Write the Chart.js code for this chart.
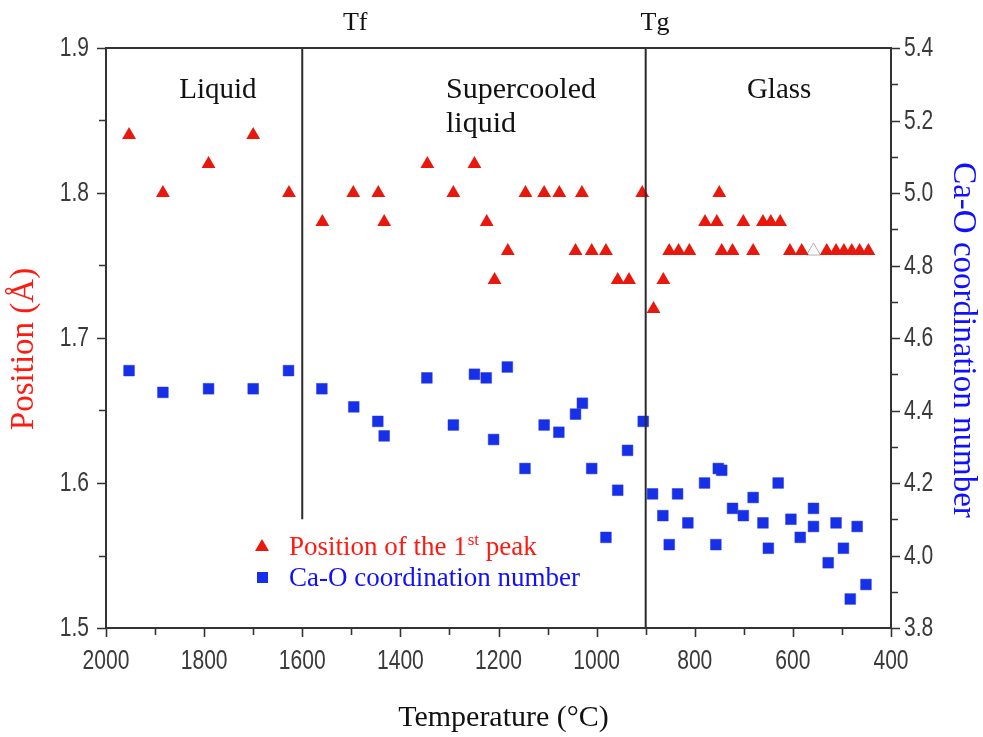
<!DOCTYPE html>
<html>
<head>
<meta charset="utf-8">
<script src="https://cdn.jsdelivr.net/npm/chart.js@4.4.1/dist/chart.umd.min.js"></script>
<style>
  html, body { margin: 0; padding: 0; background: #ffffff; }
  #wrap { width: 983px; height: 737px; position: relative; }
</style>
</head>
<body>
<div id="wrap"><canvas id="c" width="983" height="737"></canvas></div>
<script>
// ---- Data ----
// Position of the 1st peak (Å), left axis
const peakTemps = [1953, 1884, 1791, 1700, 1627, 1559, 1496, 1445, 1433, 1345, 1292, 1249, 1224, 1208, 1181, 1145, 1107, 1076, 1043, 1030, 1010, 981, 957, 934, 907, 884, 864, 852, 833, 811, 779, 755, 750, 745, 723, 701, 681, 661, 645, 626, 606, 582, 531, 512, 496, 480, 464, 446];
const peakValues = [1.84, 1.80, 1.82, 1.84, 1.80, 1.78, 1.80, 1.80, 1.78, 1.82, 1.80, 1.82, 1.78, 1.74, 1.76, 1.80, 1.80, 1.80, 1.76, 1.80, 1.76, 1.76, 1.74, 1.74, 1.80, 1.72, 1.74, 1.76, 1.76, 1.76, 1.78, 1.78, 1.80, 1.76, 1.76, 1.78, 1.76, 1.78, 1.78, 1.78, 1.76, 1.76, 1.76, 1.76, 1.76, 1.76, 1.76, 1.76];
// faint grey outlined triangle visible in the reference
const ghostTemps = [558];
const ghostValues = [1.76];

// Ca-O coordination number, right axis
const cnTemps = [1953, 1884, 1791, 1700, 1628, 1560, 1495, 1446, 1433, 1346, 1292, 1249, 1225, 1210, 1182, 1146, 1107, 1077, 1043, 1029, 1010, 981, 957, 937, 905, 886, 865, 852, 835, 814, 780, 757, 752, 745, 723, 701, 681, 661, 650, 630, 604, 585, 558, 558, 528, 512, 497, 483, 469, 451];
const cnValues = [4.51, 4.45, 4.46, 4.46, 4.51, 4.46, 4.41, 4.37, 4.33, 4.49, 4.36, 4.50, 4.49, 4.32, 4.52, 4.24, 4.36, 4.34, 4.39, 4.42, 4.24, 4.05, 4.18, 4.29, 4.37, 4.17, 4.11, 4.03, 4.17, 4.09, 4.20, 4.03, 4.24, 4.235, 4.13, 4.11, 4.16, 4.09, 4.02, 4.20, 4.10, 4.05, 4.13, 4.08, 3.98, 4.09, 4.02, 3.88, 4.08, 3.92];

// Phase boundaries: temperature and lower end (left-axis value) of the vertical line
const boundaryNames = ['Tf', 'Tg'];
const boundaryTemps = [1600, 900];
const boundaryBottoms = [1.575, 1.5];
const boundaryLabelTemps = [1492, 881];

// Axis ranges and tick labels
const xMin = 400, xMax = 2000;
const xLabelStep = 200, xMinorStep = 100;
const yMin = 1.5, yMax = 1.9, yLabelStep = 0.1, yMinorStep = 0.05;
const y2Min = 3.8, y2Max = 5.4, y2LabelStep = 0.2, y2MinorStep = 0.1;
const xTickLabels = ['2000', '1800', '1600', '1400', '1200', '1000', '800', '600', '400'];
const yTickLabels = ['1.5', '1.6', '1.7', '1.8', '1.9'];
const y2TickLabels = ['3.8', '4.0', '4.2', '4.4', '4.6', '4.8', '5.0', '5.2', '5.4'];

// Region labels (temperature, left-axis value)
const regionLabels = ['Liquid', 'Supercooled', 'liquid', 'Glass'];
const regionTemps = [1772, 1307, 1307, 628];
const regionValues = [1.871, 1.871, 1.8476, 1.871];
const regionAlign = ['center', 'left', 'left', 'center'];

const RED = '#e8180c';
const BLUE = '#1530e8';
const TEXT_RED = '#ff1a10';
const TEXT_BLUE = '#1010ff';
const AXIS = '#333333';
const TICK_TEXT = '#3a3a3a';

const serif = '"Liberation Serif", "DejaVu Serif", serif';
const tickFont = '"Liberation Sans", Arial, sans-serif';

const peakData = peakTemps.map((t, i) => ({ x: t, y: peakValues[i] }));
const ghostData = ghostTemps.map((t, i) => ({ x: t, y: ghostValues[i] }));
const cnData = cnTemps.map((t, i) => ({ x: t, y: cnValues[i] }));
const boundaryDatasets = boundaryTemps.map((t, i) => ({
  type: 'line',
  label: boundaryNames[i],
  data: [{ x: t, y: yMax }, { x: t, y: boundaryBottoms[i] }],
  yAxisID: 'y',
  borderColor: '#2b2b2b',
  borderWidth: 2,
  pointRadius: 0,
  showLine: true,
  fill: false
}));

// narrow tick label text (condensed look of the original)
function narrowText(ctx, s, x, y, align) {
  const sx = 0.78;
  ctx.save();
  ctx.translate(x, y);
  ctx.scale(sx, 1);
  ctx.textAlign = align;
  ctx.fillText(s, 0, 0);
  ctx.restore();
}

function decorate(chart) {
  const ctx = chart.ctx;
  const ca = chart.chartArea;
  const xs = chart.scales.x, ys = chart.scales.y, y2s = chart.scales.y2;
  ctx.save();
  // frame
  ctx.strokeStyle = AXIS;
  ctx.lineWidth = 2;
  ctx.strokeRect(ca.left, ca.top, ca.right - ca.left, ca.bottom - ca.top);
  // ticks
  ctx.lineWidth = 1.6;
  ctx.beginPath();
  for (let v = xMin; v <= xMax + 1e-6; v += xMinorStep) {
    const px = Math.round(xs.getPixelForValue(v)) + 0.5;
    const major = Math.abs(v / xLabelStep - Math.round(v / xLabelStep)) < 1e-6;
    ctx.moveTo(px, ca.bottom);
    ctx.lineTo(px, ca.bottom + (major ? 9 : 7));
  }
  for (let v = yMin; v <= yMax + 1e-6; v += yMinorStep) {
    const py = Math.round(ys.getPixelForValue(v)) + 0.5;
    const major = Math.abs(v / yLabelStep - Math.round(v / yLabelStep)) < 1e-6;
    ctx.moveTo(ca.left, py);
    ctx.lineTo(ca.left - (major ? 9 : 7), py);
  }
  for (let v = y2Min; v <= y2Max + 1e-6; v += y2MinorStep) {
    const py = Math.round(y2s.getPixelForValue(v)) + 0.5;
    const major = Math.abs(v / y2LabelStep - Math.round(v / y2LabelStep)) < 1e-6;
    ctx.moveTo(ca.right, py);
    ctx.lineTo(ca.right + (major ? 9 : 7), py);
  }
  ctx.stroke();

  // tick labels
  ctx.fillStyle = TICK_TEXT;
  ctx.font = '27px ' + tickFont;
  ctx.textBaseline = 'middle';
  xTickLabels.forEach((s) => {
    narrowText(ctx, s, xs.getPixelForValue(parseFloat(s)), ca.bottom + 34, 'center');
  });
  yTickLabels.forEach((s) => {
    narrowText(ctx, s, ca.left - 17, ys.getPixelForValue(parseFloat(s)) + 1, 'right');
  });
  y2TickLabels.forEach((s) => {
    narrowText(ctx, s, ca.right + 13, y2s.getPixelForValue(parseFloat(s)) + 1, 'left');
  });

  // phase boundary labels above the plot
  ctx.fillStyle = '#111';
  ctx.font = '26px ' + serif;
  ctx.textAlign = 'center';
  ctx.textBaseline = 'alphabetic';
  boundaryNames.forEach((s, i) => {
    ctx.fillText(s, xs.getPixelForValue(boundaryLabelTemps[i]), 30);
  });

  // region labels
  ctx.textBaseline = 'middle';
  regionLabels.forEach((s, i) => {
    ctx.textAlign = regionAlign[i];
    ctx.font = (s === 'Glass' || s === 'Liquid' ? 29 : 30) + 'px ' + serif;
    ctx.fillText(s, xs.getPixelForValue(regionTemps[i]), ys.getPixelForValue(regionValues[i]));
  });

  // legend
  const lx = ca.left + 156, ly1 = ca.top + 498, ly2 = ca.top + 529;
  ctx.fillStyle = RED;
  ctx.beginPath();
  ctx.moveTo(lx, ly1 - 7);
  ctx.lineTo(lx + 7, ly1 + 5);
  ctx.lineTo(lx - 7, ly1 + 5);
  ctx.closePath();
  ctx.fill();
  ctx.fillStyle = BLUE;
  ctx.fillRect(lx - 5, ly2 - 5, 11, 11);
  ctx.textAlign = 'left';
  ctx.textBaseline = 'alphabetic';
  ctx.font = '27px ' + serif;
  ctx.fillStyle = TEXT_RED;
  let tx = lx + 27;
  const base1 = ly1 + 9;
  const p1 = 'Position of the 1';
  ctx.fillText(p1, tx, base1);
  tx += ctx.measureText(p1).width;
  ctx.font = '17px ' + serif;
  ctx.fillText('st', tx + 1, base1 - 10);
  tx += ctx.measureText('st').width + 1;
  ctx.font = '27px ' + serif;
  ctx.fillText(' peak', tx, base1);
  ctx.fillStyle = TEXT_BLUE;
  ctx.fillText('Ca-O coordination number', lx + 27, ly2 + 9);

  // axis titles
  ctx.textAlign = 'center';
  ctx.textBaseline = 'middle';
  ctx.fillStyle = '#111';
  ctx.font = '30px ' + serif;
  ctx.fillText('Temperature (°C)', (ca.left + ca.right) / 2 + 5, 718);
  ctx.save();
  ctx.translate(24, 349);
  ctx.rotate(-Math.PI / 2);
  ctx.fillStyle = TEXT_RED;
  ctx.font = '33px ' + serif;
  ctx.fillText('Position (Å)', 0, 0);
  ctx.restore();
  ctx.save();
  ctx.translate(963, 340);
  ctx.rotate(Math.PI / 2);
  ctx.fillStyle = TEXT_BLUE;
  ctx.font = '33px ' + serif;
  ctx.fillText('Ca-O coordination number', 0, 0);
  ctx.restore();
  ctx.restore();
}

const chart = new Chart(document.getElementById('c'), {
  type: 'scatter',
  data: {
    datasets: [
      ...boundaryDatasets,
      {
        label: 'Position of the 1st peak',
        data: peakData,
        yAxisID: 'y',
        pointStyle: 'triangle',
        pointRadius: 8,
        backgroundColor: RED,
        borderColor: RED,
        borderWidth: 0
      },
      {
        label: 'ghost',
        data: ghostData,
        yAxisID: 'y',
        pointStyle: 'triangle',
        pointRadius: 8,
        backgroundColor: 'rgba(0,0,0,0)',
        borderColor: '#b0b0b0',
        borderWidth: 1
      },
      {
        label: 'Ca-O coordination number',
        data: cnData,
        yAxisID: 'y2',
        pointStyle: 'rect',
        pointRadius: 7.6,
        backgroundColor: BLUE,
        borderColor: '#2a3cd8',
        borderWidth: 0.5
      }
    ]
  },
  options: {
    responsive: false,
    animation: false,
    devicePixelRatio: 1,
    layout: { padding: { top: 48, left: 0, right: 0, bottom: 0 } },
    plugins: {
      legend: { display: false },
      tooltip: { enabled: false },
      title: { display: false }
    },
    scales: {
      x: {
        type: 'linear',
        reverse: true,
        min: xMin,
        max: xMax,
        grid: { display: false },
        border: { display: false },
        ticks: { display: false, stepSize: xLabelStep },
        afterFit: (s) => { s.height = 109; }
      },
      y: {
        position: 'left',
        min: yMin,
        max: yMax,
        grid: { display: false },
        border: { display: false },
        ticks: { display: false, stepSize: yLabelStep },
        afterFit: (s) => { s.width = 106; }
      },
      y2: {
        position: 'right',
        min: y2Min,
        max: y2Max,
        grid: { display: false },
        border: { display: false },
        ticks: { display: false, stepSize: y2LabelStep },
        afterFit: (s) => { s.width = 92; }
      }
    }
  },
  plugins: [{ id: 'decor', afterDraw: decorate }]
});
</script>
</body>
</html>
